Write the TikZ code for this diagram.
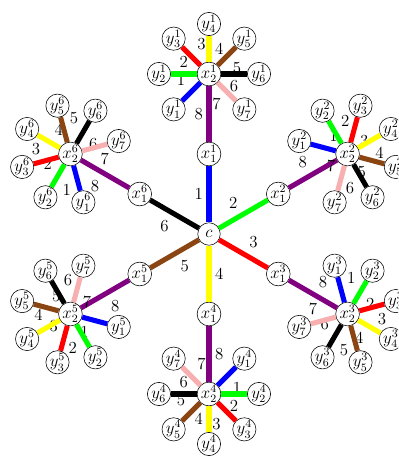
\documentclass[tikz,border=0pt]{standalone}
\usetikzlibrary{calc}
\begin{document}
\begin{tikzpicture}[thick, font=\large]

  % Colors (one per edge label)
  \definecolor{col1}{HTML}{0000FF} % Blue
  \definecolor{col2}{HTML}{00FF00} % Green
  \definecolor{col3}{HTML}{FF0000} % Red
  \definecolor{col4}{HTML}{FFFF00} % Yellow
  \definecolor{col5}{HTML}{8B4513} % Brown
  \definecolor{col6}{HTML}{000000} % Black
  \definecolor{col7}{HTML}{F7AFAF} % Pink
  \definecolor{col8}{HTML}{800080} % Purple

  \def\arm{2}     % distance c -> x1 and x1 -> x2
  \def\leaf{1.25} % distance x2 -> y

  \tikzset{
    vert/.style={circle, draw, thin, fill=white, inner sep=0pt, minimum size=16pt},
    edge/.style={line width=3.6pt},
    lab/.style={midway, auto, text=black, inner sep=2.5pt}
  }

  % Frame of the picture
  \clip (-5.225,-5.55) rectangle (4.725,5.85);

  % Centre
  \node[vert] (c) at (0,0) {$c$};

  % The six arms
  \foreach \k/\ang in {1/90, 2/30, 3/-30, 4/-90, 5/210, 6/150} {
    \node[vert] (x\k1) at (\ang:\arm) {$x^{\k}_1$};
    \node[vert] (x\k2) at (\ang:2*\arm) {$x^{\k}_2$};
    \draw[edge, col\k] (c) -- node[lab] {\k} (x\k1);
    \draw[edge, col8] (x\k1) -- node[lab] {8} (x\k2);

    % Leaves around x2, edge 8 points back to the centre
    \foreach \j in {1,...,7} {
      \pgfmathsetmacro{\leafang}{\ang+180-45*\j}
      \node[vert] (y\k\j) at ($(x\k2)+(\leafang:\leaf)$) {$y^{\k}_{\j}$};
      \draw[edge, col\j] (x\k2) -- node[lab, swap] {\j} (y\k\j);
    }
  }

\end{tikzpicture}
\end{document}
